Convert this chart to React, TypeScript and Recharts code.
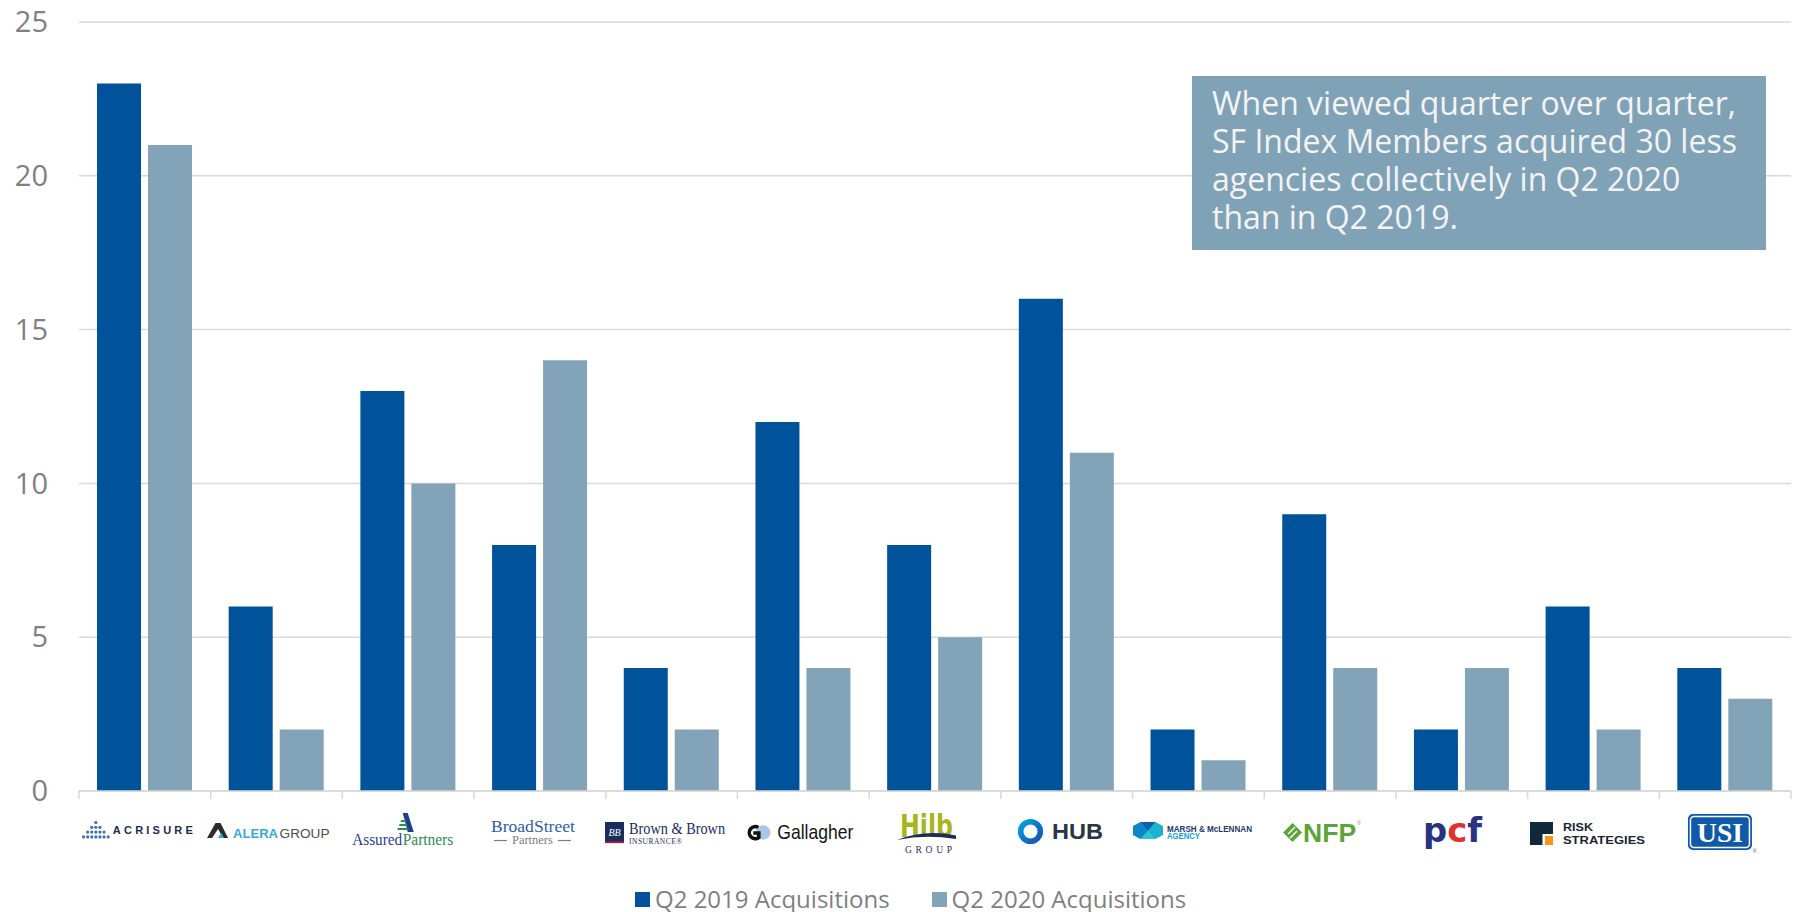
import React from 'react';
import { BarChart, Bar, XAxis, YAxis, CartesianGrid, Legend } from 'recharts';

const categories = [
  'Acrisure', 'Alera Group', 'AssuredPartners', 'BroadStreet Partners', 'Brown & Brown',
  'Gallagher', 'Hilb Group', 'HUB', 'Marsh & McLennan Agency', 'NFP', 'PCF', 'Risk Strategies', 'USI',
];
const q2_2019 = [23, 6, 13, 8, 4, 12, 8, 16, 2, 9, 2, 6, 4];
const q2_2020 = [21, 2, 10, 14, 2, 4, 5, 11, 1, 4, 4, 2, 3];
const yTicks = [0, 5, 10, 15, 20, 25];
const seriesNames = ['Q2 2019 Acquisitions', 'Q2 2020 Acquisitions'];
const noteLines = [
  'When viewed quarter over quarter,',
  'SF Index Members acquired 30 less',
  'agencies collectively in Q2 2020',
  'than in Q2 2019.',
];

const data = categories.map((name, i) => ({ name, q2019: q2_2019[i], q2020: q2_2020[i] }));

const W = 1800;
const H = 912;
const M_TOP = 22;
const M_RIGHT = 9;
const Y_W = 79;
const BAND = (W - M_RIGHT - Y_W) / categories.length;
const GRID = '#d9d9d9';
const DARK = '#00529b';
const LIGHT = '#82a3b8';
const SERIF = '"Liberation Serif", "DejaVu Serif", serif';
const SANS = '"Liberation Sans", Arial, sans-serif';

function Logo({ i }: { i: number }) {
  switch (i) {
    case 0: {
      const rows = [1, 3, 5, 7];
      const dots: React.ReactNode[] = [];
      rows.forEach((n, r) => {
        for (let k = 0; k < n; k++) {
          dots.push(<circle key={`${r}-${k}`} cx={-49 + (k - (n - 1) / 2) * 4.1} cy={31.5 + r * 4.8} r={1.6} fill="#3f6fb6" />);
        }
      });
      return (
        <g>
          {dots}
          <text x={-32} y={43} fontFamily={SANS} fontWeight={700} fontSize={11} fill="#1d2b4f" textLength={80} lengthAdjust="spacing">ACRISURE</text>
        </g>
      );
    }
    case 1:
      return (
        <g>
          <polygon points="-69.5,47 -61,32 -56,32 -48.5,47 -53.5,47 -58.5,38 -64.5,47" fill="#2b2b2b" />
          <polygon points="-58.5,47 -55.5,41.5 -52.5,47" fill="#3aa6de" />
          <text x={-43.5} y={47} fontFamily={SANS} fontWeight={700} fontSize={12.5} fill="#3aa6de" textLength={45} lengthAdjust="spacingAndGlyphs">ALERA</text>
          <text x={3} y={47} fontFamily={SANS} fontSize={12.5} fill="#4d4d4d" textLength={50} lengthAdjust="spacingAndGlyphs">GROUP</text>
        </g>
      );
    case 2:
      return (
        <g>
          <polygon points="-5.5,22 -0.5,22 5.5,41 -0.5,41" fill="#1f3f8f" />
          <polygon points="-7,29 -2.5,29 -2,31 -7.8,31" fill="#2e8b57" />
          <polygon points="-8.6,33 -1.3,33 -0.7,35 -9.4,35" fill="#2e8b57" />
          <polygon points="-10.2,37 0,37 0.6,39 -11,39" fill="#2e8b57" />
          <text x={-56} y={54} fontFamily={SERIF} fontSize={17.5} fill="#1f3f8f" textLength={50} lengthAdjust="spacingAndGlyphs">Assured</text>
          <text x={-5.5} y={54} fontFamily={SERIF} fontSize={17.5} fill="#2e8b57" textLength={50.5} lengthAdjust="spacingAndGlyphs">Partners</text>
        </g>
      );
    case 3:
      return (
        <g>
          <text x={-49} y={41} fontFamily={SERIF} fontSize={17.5} fill="#2f5ea8" textLength={84} lengthAdjust="spacingAndGlyphs">BroadStreet</text>
          <line x1={-46} x2={-33} y1={49.5} y2={49.5} stroke="#7d7d7d" strokeWidth={1.2} />
          <line x1={18} x2={31} y1={49.5} y2={49.5} stroke="#7d7d7d" strokeWidth={1.2} />
          <text x={-7.5} y={53} textAnchor="middle" fontFamily={SERIF} fontSize={12.5} fill="#7d7d7d">Partners</text>
        </g>
      );
    case 4:
      return (
        <g>
          <rect x={-66.6} y={31} width={19} height={21} fill="#1b2d5b" />
          <rect x={-66.6} y={50.5} width={19} height={1.6} fill="#c8102e" />
          <text x={-57.1} y={45} textAnchor="middle" fontFamily={SERIF} fontStyle="italic" fontSize={10} fill="#ffffff">BB</text>
          <text x={-42.6} y={43} fontFamily={SERIF} fontSize={16.5} fill="#1b2d5b" textLength={96} lengthAdjust="spacingAndGlyphs">Brown &amp; Brown</text>
          <text x={-42.6} y={53} fontFamily={SERIF} fontSize={7.5} fill="#1b2d5b" textLength={53} lengthAdjust="spacing">INSURANCE®</text>
        </g>
      );
    case 5:
      return (
        <g>
          <circle cx={-40} cy={41.5} r={7.2} fill="#a8c8e6" />
          <path d="M -45 36.5 A 6 6 0 1 0 -44.5 46.5 L -44.5 42 L -50 42" stroke="#111111" strokeWidth={3.6} fill="none" />
          <text x={-26} y={48} fontFamily={SANS} fontSize={21} fill="#141414" textLength={76} lengthAdjust="spacingAndGlyphs">Gallagher</text>
        </g>
      );
    case 6:
      return (
        <g>
          <text x={-35} y={46} fontFamily={'"DejaVu Sans", sans-serif'} fontWeight={700} fontSize={32} fill="#a9b51c" textLength={53} lengthAdjust="spacingAndGlyphs">Hilb</text>
          <path d="M -38 49 Q -10 38 21 44.5 L 21 48 Q -10 43 -38 49 Z" fill="#1b2d5b" />
          <text x={-30} y={62} fontFamily={SERIF} fontSize={9.5} fill="#1b2d5b" textLength={47} lengthAdjust="spacing">GROUP</text>
        </g>
      );
    case 7:
      return (
        <g>
          <defs>
            <linearGradient id="hubGrad" x1="0" y1="0" x2="1" y2="1">
              <stop offset="0%" stopColor="#00a3e0" />
              <stop offset="100%" stopColor="#1a4fb4" />
            </linearGradient>
          </defs>
          <circle cx={-36.2} cy={40.5} r={9.8} fill="none" stroke="url(#hubGrad)" strokeWidth={5.6} />
          <text x={-14.7} y={47.5} fontFamily={SANS} fontWeight={700} fontSize={22} fill="#2b3440" textLength={51} lengthAdjust="spacingAndGlyphs">HUB</text>
        </g>
      );
    case 8:
      return (
        <g>
          <polygon points="-65.4,35 -58,31 -50.4,35 -50.4,44 -58,48 -65.4,44" fill="#0b86c9" />
          <polygon points="-50.4,35 -43,31 -35.4,35 -35.4,44 -43,48 -50.4,44" fill="#1bb3cf" />
          <polygon points="-58,31 -50.4,39.5 -43,31" fill="#0a5ea3" />
          <polygon points="-58,48 -50.4,39.5 -43,48" fill="#2ec4d6" />
          <text x={-31.4} y={40.5} fontFamily={SANS} fontWeight={700} fontSize={8.5} fill="#22386b" textLength={85} lengthAdjust="spacingAndGlyphs">MARSH &amp; McLENNAN</text>
          <text x={-31.4} y={47.5} fontFamily={SANS} fontWeight={700} fontSize={8.5} fill="#0aa0dc" textLength={33} lengthAdjust="spacingAndGlyphs">AGENCY</text>
        </g>
      );
    case 9:
      return (
        <g>
          <polygon points="-37.5,32 -28,41.5 -37.5,51 -47,41.5" fill="#5aa53a" />
          <line x1={-42} x2={-35} y1={43} y2={36} stroke="#ffffff" strokeWidth={1.6} />
          <line x1={-40} x2={-33} y1={47} y2={40} stroke="#ffffff" strokeWidth={1.6} />
          <text x={-27} y={50.5} fontFamily={SANS} fontWeight={700} fontSize={25.5} fill="#5aa53a" textLength={53} lengthAdjust="spacingAndGlyphs">NFP</text>
          <text x={27} y={34} fontFamily={SANS} fontSize={5} fill="#5aa53a">®</text>
        </g>
      );
    case 10:
      return (
        <g>
          <text x={-38.8} y={51} fontFamily={'"DejaVu Sans", sans-serif'} fontWeight={700} fontSize={34} textLength={59} lengthAdjust="spacingAndGlyphs">
            <tspan fill="#2a3382">p</tspan>
            <tspan fill="#e2302b">c</tspan>
            <tspan fill="#2a3382">f</tspan>
          </text>
        </g>
      );
    case 11:
      return (
        <g>
          <polygon points="-63.5,31 -40.5,31 -40.5,43 -51,43 -51,54 -63.5,54" fill="#10283a" />
          <rect x={-48.5} y={45} width={8} height={9} fill="#f7941d" />
          <text x={-30.5} y={39.5} fontFamily={SANS} fontWeight={700} fontSize={11} fill="#1b2631" textLength={30} lengthAdjust="spacingAndGlyphs">RISK</text>
          <text x={-30.5} y={53} fontFamily={SANS} fontWeight={700} fontSize={11} fill="#1b2631" textLength={82} lengthAdjust="spacingAndGlyphs">STRATEGIES</text>
        </g>
      );
    case 12:
      return (
        <g>
          <rect x={-37.2} y={23} width={64} height={36} rx={5} fill="#0f5aa8" />
          <rect x={-34.7} y={25.5} width={59} height={31} rx={3.5} fill="none" stroke="#ffffff" strokeWidth={1.5} />
          <text x={-5.2} y={51} textAnchor="middle" fontFamily={SERIF} fontWeight={700} fontSize={27} fill="#ffffff" textLength={46} lengthAdjust="spacingAndGlyphs">USI</text>
          <text x={27.5} y={62} fontFamily={SANS} fontSize={5} fill="#0f5aa8">®</text>
        </g>
      );
    default:
      return null;
  }
}

const XTick = (props: any) => {
  const { x, y, payload, index } = props;
  const i = typeof index === 'number' ? index : payload?.index ?? 0;
  const half = BAND / 2;
  return (
    <g transform={`translate(${x},${y})`}>
      <line x1={-half} x2={-half} y1={0} y2={8} stroke={GRID} strokeWidth={1.5} />
      {i === categories.length - 1 && <line x1={half} x2={half} y1={0} y2={8} stroke={GRID} strokeWidth={1.5} />}
      <Logo i={i} />
    </g>
  );
};

const renderLegend = (props: any) => {
  const payload = props?.payload ?? [];
  return (
    <div style={{ display: 'flex', alignItems: 'center', paddingLeft: 635, height: 30, fontFamily: '"Open Sans", sans-serif', fontSize: 24, color: '#7f7f7f', whiteSpace: 'nowrap' }}>
      {payload.map((p: any, k: number) => (
        <div key={k} style={{ display: 'flex', alignItems: 'center', marginRight: 42 }}>
          <span style={{ display: 'inline-block', width: 15, height: 15, background: p.color, marginRight: 5 }} />
          <span style={{ lineHeight: '24px' }}>{p.value}</span>
        </div>
      ))}
    </div>
  );
};

export default function App() {
  return (
    <div style={{ position: 'absolute', left: 0, top: 0, width: W, height: H, background: '#ffffff', fontFamily: '"Open Sans", sans-serif', overflow: 'hidden' }}>
      <BarChart width={W} height={H} data={data} margin={{ top: M_TOP, right: M_RIGHT, left: 0, bottom: 0 }} barGap={7} barSize={44}>
        <CartesianGrid vertical={false} stroke={GRID} strokeWidth={1.5} />
        <XAxis
          dataKey="name"
          interval={0}
          height={121}
          tickLine={false}
          tickSize={0}
          tickMargin={0}
          axisLine={{ stroke: GRID, strokeWidth: 1.5 }}
          tick={<XTick />}
        />
        <YAxis
          width={Y_W}
          domain={[0, 25]}
          ticks={yTicks}
          axisLine={false}
          tickLine={false}
          tickSize={0}
          tickMargin={31}
          tick={{ fontSize: 29, fill: '#808080', fontFamily: '"Open Sans", sans-serif' }}
        />
        <Legend
          layout="vertical"
          verticalAlign="middle"
          align="center"
          wrapperStyle={{ left: 0, top: 884, width: W, height: 30 }}
          content={renderLegend}
        />
        <Bar dataKey="q2019" name={seriesNames[0]} fill={DARK} isAnimationActive={false} />
        <Bar dataKey="q2020" name={seriesNames[1]} fill={LIGHT} isAnimationActive={false} />
      </BarChart>
      <div
        style={{
          position: 'absolute', left: 1192, top: 76, width: 574, height: 174,
          background: '#80a2b7', color: '#f3f3f3', fontFamily: '"Open Sans", sans-serif',
          fontSize: 32, lineHeight: '38px', padding: '8px 0 0 20px', boxSizing: 'border-box', whiteSpace: 'nowrap',
        }}
      >
        {noteLines.map((l) => <div key={l}>{l}</div>)}
      </div>
    </div>
  );
}
